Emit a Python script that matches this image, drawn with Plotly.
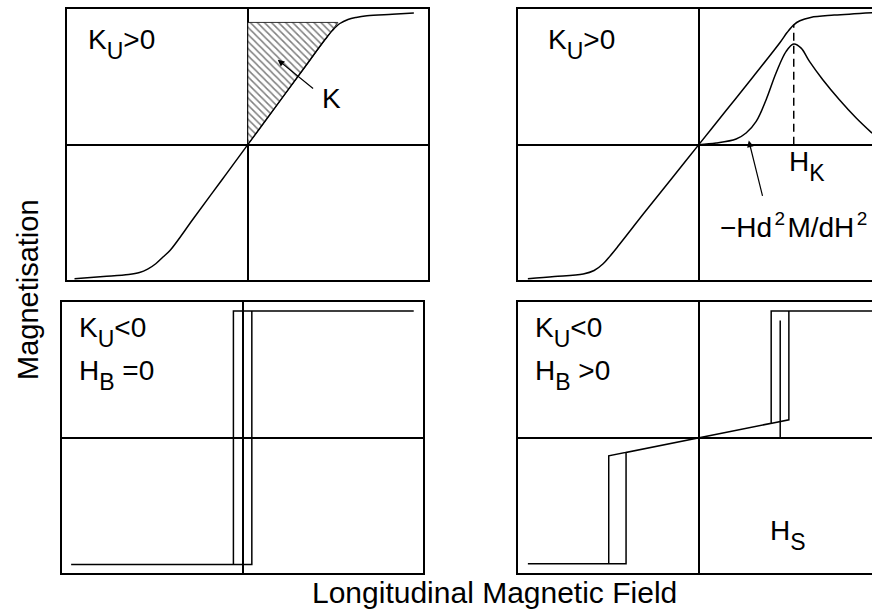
import plotly.graph_objects as go

# anisotropy field sweeps, field and magnetisation in reduced units (-1..1)
tl_h = [-0.96, -0.80, -0.66, -0.60, -0.555, -0.51, -0.47, -0.43, -0.30, -0.15, 0,
        0.15, 0.30, 0.43, 0.47, 0.51, 0.555, 0.60, 0.66, 0.80, 0.92]
tl_m = [-0.99, -0.975, -0.96, -0.945, -0.92, -0.88, -0.83, -0.78, -0.544, -0.272, 0,
        0.272, 0.544, 0.78, 0.845, 0.895, 0.925, 0.94, 0.952, 0.963, 0.972]

# hatched anisotropy-energy area K
k_h = [0, 0, 0.499, 0]
k_m = [0, 0.903, 0.903, 0]

tr_h = [-0.947, -0.80, -0.64, -0.58, -0.53, -0.49, -0.45, -0.30, -0.15, 0,
        0.15, 0.30, 0.45, 0.49, 0.526, 0.56, 0.62, 0.75, 0.96]
tr_m = [-0.99, -0.975, -0.955, -0.93, -0.88, -0.82, -0.755, -0.50, -0.25, 0,
        0.25, 0.50, 0.755, 0.83, 0.885, 0.915, 0.94, 0.957, 0.975]

# -H d2M/dH2
peak_h = [0, 0.096, 0.207, 0.262, 0.318, 0.373, 0.428, 0.484, 0.526, 0.567,
          0.613, 0.687, 0.779, 0.872, 0.96]
peak_m = [0, 0.012, 0.042, 0.086, 0.172, 0.332, 0.529, 0.689, 0.743, 0.713,
          0.615, 0.480, 0.332, 0.197, 0.085]
hk = 0.526
hk_m = 0.885

# square loop, H_B = 0
bl_h = [-0.951, 0.05, 0.05, 0.947, -0.052, -0.052, -0.951]
bl_m = [-0.935, -0.935, 0.935, 0.935, 0.935, -0.935, -0.935]

# loop with bias field
br_h = [-0.947, -0.403, -0.403, 0.499, 0.499, 0.96, 0.401, 0.401, -0.499, -0.499, -0.947]
br_m = [-0.93, -0.93, -0.108, 0.133, 0.935, 0.935, 0.935, 0.107, -0.133, -0.93, -0.93]
hs = 0.451
hs_m = 0.866

W, H = 872, 610
FONT = "Liberation Sans, Arial, sans-serif"
LW = 1.5

fig = go.Figure()

line = dict(color="black", width=LW)

fig.add_trace(go.Scatter(x=k_h, y=k_m, mode="lines", fill="toself",
                         fillpattern=dict(shape="\\", size=5, solidity=0.3,
                                          fgcolor="black", bgcolor="white"),
                         line=dict(color="black", width=0.8),
                         xaxis="x", yaxis="y"))
fig.add_trace(go.Scatter(x=tl_h, y=tl_m, mode="lines", line_shape="spline",
                         line=line, xaxis="x", yaxis="y"))
fig.add_trace(go.Scatter(x=tr_h, y=tr_m, mode="lines", line_shape="spline",
                         line=line, xaxis="x2", yaxis="y2"))
fig.add_trace(go.Scatter(x=peak_h, y=peak_m, mode="lines", line_shape="spline",
                         line=line, xaxis="x2", yaxis="y2"))
fig.add_trace(go.Scatter(x=[hk, hk], y=[0, hk_m], mode="lines",
                         line=dict(color="black", width=LW, dash="8px,5px"),
                         xaxis="x2", yaxis="y2"))
fig.add_trace(go.Scatter(x=bl_h, y=bl_m, mode="lines", line=line,
                         xaxis="x3", yaxis="y3"))
fig.add_trace(go.Scatter(x=br_h, y=br_m, mode="lines", line=line,
                         xaxis="x4", yaxis="y4"))
fig.add_trace(go.Scatter(x=[hs, hs], y=[0, hs_m], mode="lines", line=line,
                         xaxis="x4", yaxis="y4"))


def ax(domain, rng, anchor, mirror=True):
    return dict(domain=domain, range=rng, anchor=anchor, showline=True,
                linecolor="black", linewidth=LW, mirror=mirror, zeroline=True,
                zerolinecolor="black", zerolinewidth=LW, showgrid=False,
                showticklabels=False, ticks="", fixedrange=True)


top = [1 - 280 / H, 1 - 9.3 / H]
bot = [1 - 573.3 / H, 1 - 302.3 / H]
right_max = -1 + 2 * (W - 518.3) / 361

fig.update_layout(
    width=W, height=H, margin=dict(l=0, r=0, t=0, b=0),
    plot_bgcolor="white", paper_bgcolor="white", showlegend=False,
    font=dict(family=FONT, size=28, color="black"),
    xaxis=ax([67.3 / W, 428.3 / W], [-1, 1], "y"),
    yaxis=ax(top, [-1, 1], "x"),
    xaxis2=ax([518.3 / W, 1], [-1, right_max], "y2"),
    yaxis2=ax(top, [-1, 1], "x2", mirror=False),
    xaxis3=ax([62.3 / W, 423.3 / W], [-1, 1], "y3"),
    yaxis3=ax(bot, [-1, 1], "x3"),
    xaxis4=ax([518.3 / W, 1], [-1, right_max], "y4"),
    yaxis4=ax(bot, [-1, 1], "x4", mirror=False),
)

# subscripts sit lower and larger than plotly's default <sub>
SUB = '<sub><sub><span style="font-size:23px">{}</span></sub></sub>'
SUP = '\u200a<sup><span style="font-size:19px">2</span></sup>\u200a'
txt = dict(showarrow=False, xanchor="left", yanchor="middle",
           font=dict(family=FONT, size=28, color="black"))
notes = [
    dict(text="K" + SUB.format("U") + ">0", x=-0.895, y=0.74, xref="x", yref="y"),
    dict(text="K", x=0.40, y=0.34, xref="x", yref="y"),
    dict(text="K" + SUB.format("U") + ">0", x=-0.845, y=0.74, xref="x2", yref="y2"),
    dict(text="H" + SUB.format("K"), x=0.4875, y=-0.16, xref="x2", yref="y2"),
    dict(text="\u2212Hd" + SUP + "M/dH" + SUP, x=0.105, y=-0.60, xref="x2", yref="y2"),
    dict(text="K" + SUB.format("U") + "<0", x=-0.917, y=0.78, xref="x3", yref="y3"),
    dict(text="H" + SUB.format("B") + " =0", x=-0.917, y=0.46, xref="x3", yref="y3"),
    dict(text="K" + SUB.format("U") + "<0", x=-0.92, y=0.78, xref="x4", yref="y4"),
    dict(text="H" + SUB.format("B") + " >0", x=-0.92, y=0.46, xref="x4", yref="y4"),
    dict(text="H" + SUB.format("S"), x=0.386, y=-0.72, xref="x4", yref="y4"),
]
for n in notes:
    fig.add_annotation(**{**txt, **n})

arrow = dict(text="", showarrow=True, arrowhead=2, arrowsize=1.1, arrowwidth=1.2,
             arrowcolor="black", standoff=0)
fig.add_annotation(**arrow, x=0.166, y=0.627, ax=0.37, ay=0.406,
                   xref="x", yref="y", axref="x", ayref="y")
fig.add_annotation(**arrow, x=0.277, y=0.03, ax=0.355, ay=-0.39,
                   xref="x2", yref="y2", axref="x2", ayref="y2")

fig.add_annotation(text="Longitudinal Magnetic Field", x=494 / W, y=1 - 592 / H,
                   xref="paper", yref="paper", showarrow=False,
                   xanchor="center", yanchor="middle",
                   font=dict(family=FONT, size=30, color="black"))
fig.add_annotation(text="Magnetisation", x=28 / W, y=1 - 290 / H,
                   xref="paper", yref="paper", showarrow=False, textangle=-90,
                   xanchor="center", yanchor="middle",
                   font=dict(family=FONT, size=29, color="black"))

# page body has a default 8px margin; drop it so the figure sits at (0, 0)
fig.write_html("out.html", config={"displayModeBar": False},
               post_script="document.body.style.margin='0';")
